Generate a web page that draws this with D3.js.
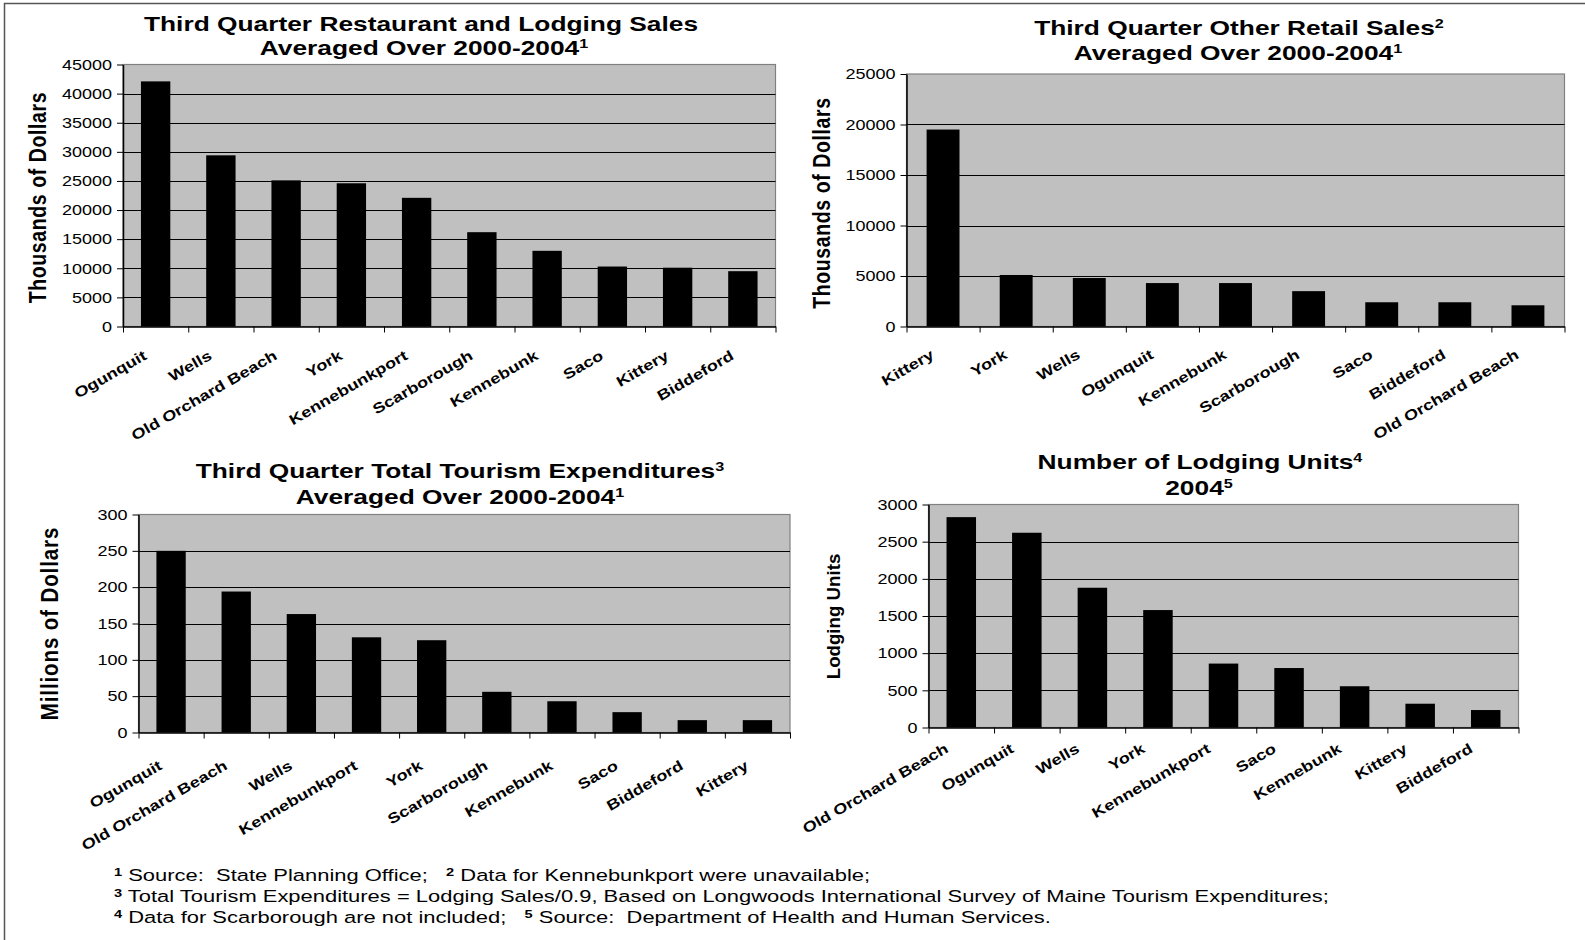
<!DOCTYPE html>
<html><head><meta charset="utf-8">
<script src="https://cdn.jsdelivr.net/npm/d3@7"></script>
<style>body{margin:0;background:#fff}svg{display:block}</style>
</head><body>
<svg id="c" width="1585" height="940"></svg>
<script>
// ---------- data ----------
const restaurantTowns = ["Ogunquit","Wells","Old Orchard Beach","York","Kennebunkport","Scarborough","Kennebunk","Saco","Kittery","Biddeford"];
const restaurantSales = [42100,29400,25100,24600,22100,16200,13000,10300,10100,9500];
const restaurantTicks = [0,5000,10000,15000,20000,25000,30000,35000,40000,45000];

const retailTowns = ["Kittery","York","Wells","Ogunquit","Kennebunk","Scarborough","Saco","Biddeford","Old Orchard Beach"];
const retailSales = [19500,5100,4800,4300,4300,3500,2400,2400,2100];
const retailTicks = [0,5000,10000,15000,20000,25000];

const tourismTowns = ["Ogunquit","Old Orchard Beach","Wells","Kennebunkport","York","Scarborough","Kennebunk","Saco","Biddeford","Kittery"];
const tourismSpending = [250,194,163,131,127,56,43,28,17,17];
const tourismTicks = [0,50,100,150,200,250,300];

const lodgingTowns = ["Old Orchard Beach","Ogunquit","Wells","York","Kennebunkport","Saco","Kennebunk","Kittery","Biddeford"];
const lodgingUnits = [2830,2620,1880,1580,860,800,555,320,235];
const lodgingTicks = [0,500,1000,1500,2000,2500,3000];

const footnotes = [
  [{sup:"1"},{t:" Source:  State Planning Office;   "},{sup:"2"},{t:" Data for Kennebunkport were unavailable;"}],
  [{sup:"3"},{t:" Total Tourism Expenditures = Lodging Sales/0.9, Based on Longwoods International Survey of Maine Tourism Expenditures;"}],
  [{sup:"4"},{t:" Data for Scarborough are not included;   "},{sup:"5"},{t:" Source:  Department of Health and Human Services."}]
];

// ---------- drawing ----------
const FONT = "'Liberation Sans', Arial, Helvetica, sans-serif";
const svg = d3.select("#c");
svg.append("rect").attr("width",1585).attr("height",940).attr("fill","#fff");
svg.append("path").attr("d","M4.5,940 V3.5 H1585").attr("fill","none").attr("stroke","#555").attr("stroke-width",1.5);

const panels = [
  {cats:restaurantTowns, vals:restaurantSales, ticks:restaurantTicks,
   L:123, R:775.5, T:64.5, B:326.5,
   title:[[{t:"Third Quarter Restaurant and Lodging Sales"}],[{t:"Averaged Over 2000-2004"},{sup:"1"}]],
   tx:[421,424], ty:[30.5,55],
   ylab:"Thousands of Dollars", ylx:37.5, yly:197.5, ylSize:19.5, ylScale:[1,1.22], ylLs:0.6,
   ldx:-8, ldy:32},
  {cats:retailTowns, vals:retailSales, ticks:retailTicks,
   L:906.5, R:1564.5, T:74, B:326.5,
   title:[[{t:"Third Quarter Other Retail Sales"},{sup:"2"}],[{t:"Averaged Over 2000-2004"},{sup:"1"}]],
   tx:[1239,1238], ty:[34.5,59.5],
   ylab:"Thousands of Dollars", ylx:821, yly:203, ylSize:19.5, ylScale:[1,1.22], ylLs:0.6,
   ldx:-8, ldy:31},
  {cats:tourismTowns, vals:tourismSpending, ticks:tourismTicks,
   L:138.5, R:790, T:514.5, B:732.5,
   title:[[{t:"Third Quarter Total Tourism Expenditures"},{sup:"3"}],[{t:"Averaged Over 2000-2004"},{sup:"1"}]],
   tx:[460,460], ty:[478,503.5],
   ylab:"Millions of Dollars", ylx:49, yly:623.5, ylSize:20.5, ylScale:[1,1.2], ylLs:0.9,
   ldx:-8, ldy:36},
  {cats:lodgingTowns, vals:lodgingUnits, ticks:lodgingTicks,
   L:928.5, R:1518.5, T:504.5, B:727.5,
   title:[[{t:"Number of Lodging Units"},{sup:"4"}],[{t:"2004"},{sup:"5"}]],
   tx:[1200,1199], ty:[469,494.5],
   ylab:"Lodging Units", ylx:834, yly:616.5, ylSize:17, ylScale:[1.1,1.05], ylLs:0,
   ldx:-12, ldy:24}
];

function addSegments(textSel, segs, supSize, supRise){
  let raised = false;
  segs.forEach(s=>{
    if (s.sup){
      textSel.append("tspan").attr("font-size",supSize).attr("dy",raised?0:-supRise).text(s.sup);
      raised = true;
    } else {
      textSel.append("tspan").attr("dy",raised?supRise:0).text(s.t);
      raised = false;
    }
  });
}

panels.forEach(p=>{
  const g = svg.append("g");
  const x = d3.scaleBand().domain(p.cats).range([p.L,p.R]).padding(0);
  const y = d3.scaleLinear().domain([0, d3.max(p.ticks)]).range([p.B,p.T]);
  const bw = x.bandwidth();

  // plot background
  g.append("rect").attr("x",p.L).attr("y",p.T).attr("width",p.R-p.L).attr("height",p.B-p.T)
   .attr("fill","#c0c0c0").attr("stroke","#808080").attr("stroke-width",1.2);

  // gridlines
  g.append("g").selectAll("line").data(p.ticks.filter(t=>t>0 && t<d3.max(p.ticks))).join("line")
   .attr("x1",p.L).attr("x2",p.R)
   .attr("y1",d=>Math.round(y(d))+0.5).attr("y2",d=>Math.round(y(d))+0.5)
   .attr("stroke","#000").attr("stroke-width",1);

  // bars
  g.append("g").selectAll("rect").data(p.vals).join("rect")
   .attr("x",(d,i)=>x(p.cats[i]) + bw*0.275)
   .attr("width",bw*0.45)
   .attr("y",d=>y(d))
   .attr("height",d=>p.B - y(d))
   .attr("fill","#000");

  // y axis
  const sxTick = 1.2;
  const ya = g.append("g").attr("transform",`translate(${p.L},0)`)
   .call(d3.axisLeft(y).tickValues(p.ticks).tickSize(6).tickSizeOuter(0).tickPadding(0).tickFormat(d=>String(d)));
  ya.select(".domain").attr("stroke","#000").attr("stroke-width",1.5);
  ya.selectAll(".tick line").attr("stroke","#000").attr("stroke-width",1);
  ya.selectAll(".tick text").attr("x",-11/sxTick).attr("transform",`scale(${sxTick},1)`)
    .attr("font-family",FONT).attr("font-size",15).attr("fill","#000");

  // x axis (ticks at band boundaries)
  const xb = d3.scaleLinear().domain([0,p.cats.length]).range([p.L,p.R]);
  const xa = g.append("g").attr("transform",`translate(0,${p.B})`)
   .call(d3.axisBottom(xb).tickValues(d3.range(p.cats.length+1)).tickSize(6).tickSizeOuter(0).tickFormat(""));
  xa.select(".domain").attr("stroke","#000").attr("stroke-width",1.5);
  xa.selectAll(".tick line").attr("stroke","#000").attr("stroke-width",1);

  // category labels
  const sxCat = 1.25;
  g.append("g").selectAll("text").data(p.cats).join("text")
   .attr("transform",d=>`translate(${x(d)+bw/2+p.ldx},${p.B+p.ldy}) rotate(-30) scale(${sxCat},1)`)
   .attr("text-anchor","end").attr("font-family",FONT).attr("font-weight","bold").attr("font-size",14.5)
   .attr("fill","#000").text(d=>d);

  // title
  const sxT = 1.35;
  p.title.forEach((line,i)=>{
    const t = g.append("text")
      .attr("transform",`translate(${p.tx[i]},${p.ty[i]}) scale(${sxT},1)`)
      .attr("text-anchor","middle").attr("font-family",FONT).attr("font-weight","bold")
      .attr("font-size",19.5).attr("fill","#000");
    addSegments(t, line, 12, 7);
  });

  // y axis title
  g.append("text")
   .attr("transform",`translate(${p.ylx},${p.yly}) rotate(-90) scale(${p.ylScale[0]},${p.ylScale[1]})`)
   .attr("text-anchor","middle").attr("dy","0.36em").attr("letter-spacing",p.ylLs)
   .attr("font-family",FONT).attr("font-weight","bold").attr("font-size",p.ylSize).attr("fill","#000")
   .text(p.ylab);
});

// footnotes
const fnY = [881,902,923];
footnotes.forEach((segs,i)=>{
  const t = svg.append("text")
    .attr("transform",`translate(114,${fnY[i]}) scale(1.33,1)`)
    .attr("font-family",FONT).attr("font-size",16.5).attr("fill","#000")
    .style("white-space","pre");
  let raised=false;
  segs.forEach(s=>{
    if(s.sup){ t.append("tspan").attr("font-size",11).attr("font-weight","bold").attr("dy",raised?0:-5).text(s.sup); raised=true; }
    else { t.append("tspan").attr("dy",raised?5:0).text(s.t); raised=false; }
  });
});
</script>
</body></html>
